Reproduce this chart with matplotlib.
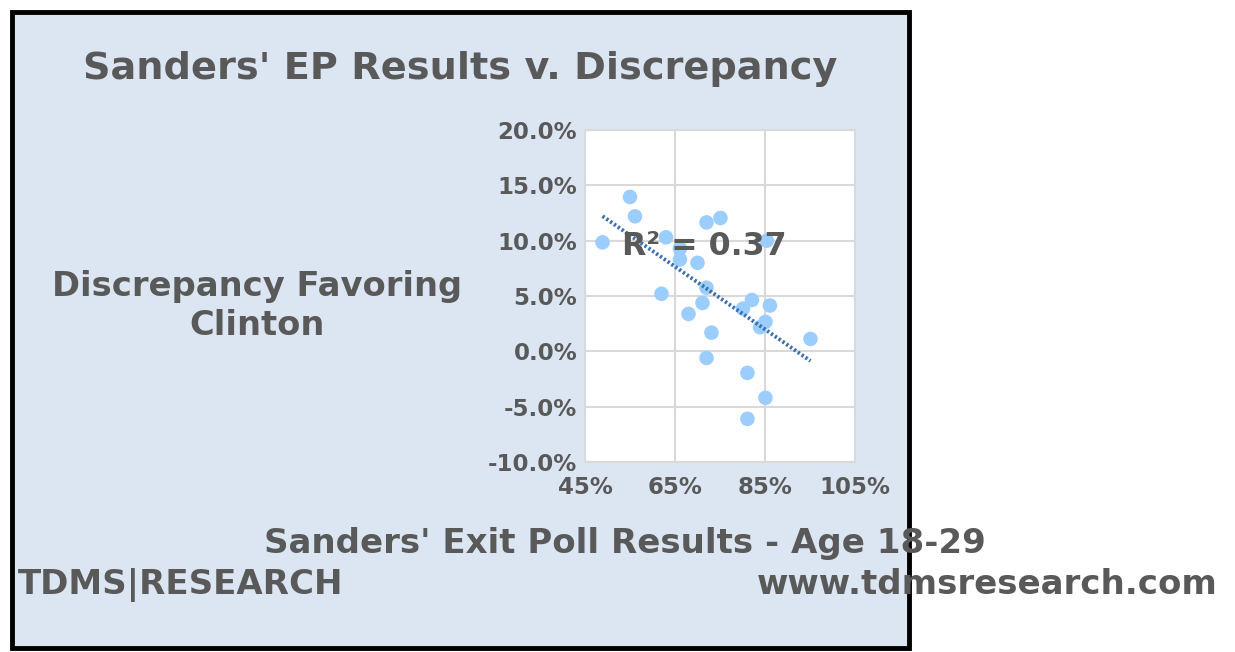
import numpy as np
import matplotlib.pyplot as plt
from matplotlib.patches import Rectangle
from matplotlib.ticker import FuncFormatter

# Sanders' exit poll share (age 18-29) vs discrepancy favoring Clinton
sanders_ep = [48.9, 55.0, 56.1, 63.0, 66.1, 66.1, 70.0, 72.0, 75.1, 85.4,
              62.0, 72.0, 71.1, 68.0, 73.1, 72.0, 82.1, 80.1, 86.1, 85.1,
              83.9, 95.1, 81.1, 85.1, 81.1]
discrepancy = [9.85, 13.95, 12.2, 10.3, 9.3, 8.3, 8.0, 11.65, 12.05, 10.0,
               5.2, 5.75, 4.37, 3.38, 1.69, -0.6, 4.64, 3.86, 4.14, 2.66,
               2.18, 1.12, -1.95, -4.2, -6.1]
x_ticks = [45, 65, 85, 105]
y_ticks = [-10, -5, 0, 5, 10, 15, 20]

grey = "#595959"
fig = plt.figure(figsize=(12.35, 6.52), dpi=100)
fig.patch.set_facecolor("white")

# outer chart box
fig.patches.append(Rectangle((12 / 1235, 4 / 652), 897 / 1235, 636 / 652,
                             transform=fig.transFigure, facecolor="#dce6f2",
                             edgecolor="black", linewidth=3.5, zorder=-5))

ax = fig.add_axes([585 / 1235, 1 - 462 / 652, 270 / 1235, 332 / 652])
ax.set_facecolor("white")

x = np.array(sanders_ep)
y = np.array(discrepancy)
ax.scatter(x, y, s=110, color="#9ccdff", edgecolors="none", zorder=3)

# linear trend line
m, b = np.polyfit(x, y, 1)
xs = np.array([x.min(), x.max()])
ax.plot(xs, m * xs + b, linestyle=(0, (0.6, 0.6)), color="#3a6fb0",
        linewidth=2.8, zorder=4)
ax.text(71.6, 9.5, "R² = 0.37", fontsize=22.8, fontweight="bold", color=grey,
        ha="center", va="center", zorder=5)

ax.set_xlim(45, 105)
ax.set_ylim(-10, 20)
ax.set_xticks(x_ticks)
ax.set_yticks(y_ticks)
ax.xaxis.set_major_formatter(FuncFormatter(lambda v, p: f"{v:.0f}%"))
ax.yaxis.set_major_formatter(FuncFormatter(lambda v, p: f"{v:.1f}%"))
ax.grid(True, color="#d9d9d9", linewidth=1.5)
ax.set_axisbelow(True)
for s in ax.spines.values():
    s.set_color("#d9d9d9")
    s.set_linewidth(1.5)
ax.tick_params(length=0, labelsize=16.5, labelcolor=grey)
ax.tick_params(axis="x", pad=10)
ax.tick_params(axis="y", pad=5.5)
for lab in ax.get_xticklabels() + ax.get_yticklabels():
    lab.set_fontweight("bold")

fig.text(460 / 1235, 1 - 69 / 652, "Sanders' EP Results v. Discrepancy",
         fontsize=27.5, fontweight="bold", color=grey, ha="center", va="center")
fig.text(257 / 1235, 1 - 306 / 652, "Discrepancy Favoring\nClinton",
         fontsize=24.3, fontweight="bold", color=grey, ha="center", va="center",
         linespacing=1.2)
fig.text(625 / 1235, 1 - 543 / 652, "Sanders' Exit Poll Results - Age 18-29",
         fontsize=24.5, fontweight="bold", color=grey, ha="center", va="center")
fig.text(18 / 1235, 1 - 585 / 652, "TDMS|RESEARCH",
         fontsize=24.5, fontweight="bold", color=grey, ha="left", va="center")
fig.text(1218 / 1235, 1 - 585 / 652, "www.tdmsresearch.com",
         fontsize=24.5, fontweight="bold", color=grey, ha="right", va="center")

fig.savefig("out.png", dpi=100)
